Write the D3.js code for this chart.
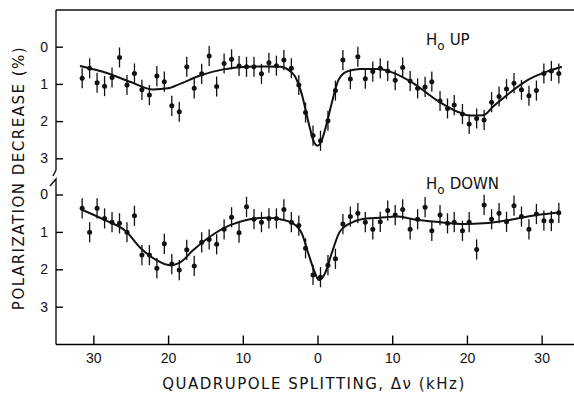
<!DOCTYPE html>
<html>
<head>
<meta charset="utf-8">
<script src="https://cdn.jsdelivr.net/npm/d3@7"></script>
<style>
  body { margin: 0; background: #fff; }
  svg { display: block; font-family: "DejaVu Sans", sans-serif; }
</style>
</head>
<body>
<svg id="chart" width="574" height="398"></svg>
<script>
// frequency of every measurement (kHz, negative = left half of the axis)
const splitting = [-31.5, -30.5, -29.5, -28.5, -27.5, -26.5, -25.5, -24.5, -23.5, -22.5,
  -21.5, -20.5, -19.5, -18.5, -17.5, -16.5, -15.5, -14.5, -13.5, -12.5,
  -11.5, -10.5, -9.5, -8.5, -7.5, -6.5, -5.5, -4.5, -3.5, -2.5,
  -1.6, -0.6, 0.4, 1.4, 2.4, 3.4, 4.4, 5.4, 6.4, 7.4,
  8.4, 9.4, 10.4, 11.4, 12.4, 13.4, 14.4, 15.3, 16.4, 17.4,
  18.3, 19.4, 20.3, 21.3, 22.3, 23.3, 24.3, 25.3, 26.3, 27.3,
  28.3, 29.3, 30.3, 31.3, 32.3];

const upValues = [0.85, 0.58, 0.97, 1.06, 0.83, 0.29, 1.03, 0.72, 1.16, 1.30,
  0.79, 0.94, 1.59, 1.75, 0.54, 1.12, 0.73, 0.25, 1.07, 0.45,
  0.34, 0.52, 0.54, 0.54, 0.73, 0.43, 0.51, 0.36, 0.58, 1.03,
  1.77, 2.39, 2.53, 1.99, 1.18, 0.36, 0.87, 0.27, 0.86, 0.67,
  0.58, 0.65, 0.90, 0.56, 0.92, 1.12, 1.08, 0.94, 1.46, 1.66,
  1.57, 1.81, 2.08, 1.93, 1.97, 1.49, 1.34, 1.14, 0.98, 1.16,
  1.32, 1.18, 0.72, 0.65, 0.72];

const downValues = [0.37, 1.01, 0.37, 0.64, 0.74, 0.77, 1.01, 0.57, 1.62, 1.62,
  1.97, 1.32, 1.86, 2.02, 1.48, 1.91, 1.28, 1.20, 1.33, 0.93,
  0.61, 1.02, 0.33, 0.66, 0.74, 0.64, 0.64, 0.40, 0.74, 0.83,
  1.44, 2.15, 2.21, 1.89, 1.72, 0.79, 0.59, 0.50, 0.74, 0.93,
  0.73, 0.43, 0.55, 0.40, 0.93, 0.66, 0.34, 0.97, 0.55, 0.77,
  0.74, 0.97, 0.74, 1.47, 0.28, 0.66, 0.50, 0.73, 0.30, 0.59,
  0.93, 0.52, 0.70, 0.71, 0.49];

const errorBar = 0.27;

// fitted curves
const upFitX = [-31.8, -28, -25, -22, -20, -18.4, -15.8, -12.6, -10.4, -7, -5, -3.7, -3, -2.6, -2, -1.6,
  -1, -0.6, 0, 0.5, 1, 1.5, 1.9, 2.8, 3.9, 5.7, 8.3, 9.7, 12.8, 15.9, 19, 20.4, 22.2, 23.5, 25.8, 28, 30.7, 32.7];
const upFitY = [0.52, 0.72, 0.95, 1.15, 1.12, 1.0, 0.78, 0.61, 0.55, 0.53, 0.54, 0.65, 0.8, 0.98, 1.35, 1.7,
  2.2, 2.5, 2.66, 2.55, 2.24, 1.85, 1.52, 0.9, 0.67, 0.6, 0.6, 0.67, 0.98, 1.43, 1.77, 1.85, 1.84, 1.61, 1.23, 0.91, 0.67, 0.54];

const downFitX = [-31.6, -28.5, -25.6, -23.8, -21.6, -19.8, -18.4, -16.7, -14.4, -11.7, -9.5, -6.8, -5, -3.3, -2.1,
  -1.3, -0.4, 0.2, 1, 1.9, 3, 4.8, 6.6, 8.3, 10.6, 12.8, 15.9, 19.9, 22.2, 25.7, 29.3, 32.3];
const downFitY = [0.40, 0.68, 0.99, 1.41, 1.75, 1.89, 1.82, 1.5, 1.13, 0.82, 0.68, 0.62, 0.66, 0.77, 1.04,
  1.53, 2.06, 2.29, 2.11, 1.57, 0.99, 0.73, 0.64, 0.62, 0.59, 0.66, 0.73, 0.79, 0.77, 0.68, 0.55, 0.48];

const xTicks = [-30, -20, -10, 0, 10, 20, 30];
const yTicks = [0, 1, 2, 3];

const svg = d3.select("#chart");
const plotLeft = 56, plotTop = 10, plotBottom = 344.5;

const x = d3.scaleLinear().domain([-35, 35]).range([plotLeft, 579]);
const yUp = d3.scaleLinear().domain([0, 3]).range([46.7, 158.3]);
const yDown = d3.scaleLinear().domain([0, 3]).range([194.5, 306.7]);

// frame: top edge, bottom axis, broken left axis
svg.append("line").attr("x1", plotLeft).attr("x2", 574).attr("y1", plotTop).attr("y2", plotTop)
  .attr("stroke", "#111").attr("stroke-width", 1.4);
svg.append("path")
  .attr("d", `M${plotLeft},${plotTop}V170L${plotLeft - 3},176`)
  .attr("fill", "none").attr("stroke", "#111").attr("stroke-width", 1.4);
svg.append("path")
  .attr("d", `M${plotLeft - 6},186L${plotLeft},179V${plotBottom}`)
  .attr("fill", "none").attr("stroke", "#111").attr("stroke-width", 1.4);

const xAxis = svg.append("g")
  .attr("transform", `translate(0,${plotBottom})`)
  .call(d3.axisBottom(x).tickValues(xTicks).tickSizeInner(-9).tickSizeOuter(0)
    .tickPadding(9).tickFormat(d => Math.abs(d)));
xAxis.select(".domain").attr("d", `M${plotLeft},0H574`).attr("stroke-width", 1.4);
xAxis.selectAll(".tick line").attr("stroke-width", 1.4);
xAxis.selectAll("text").attr("font-size", 14).attr("fill", "#111");

[yUp, yDown].forEach(y => {
  const g = svg.append("g")
    .attr("transform", `translate(${plotLeft},0)`)
    .call(d3.axisLeft(y).tickValues(yTicks).tickSize(-7).tickPadding(8).tickFormat(d3.format("d")));
  g.select(".domain").remove();
  g.selectAll(".tick line").attr("stroke-width", 1.4);
  g.selectAll("text").attr("font-size", 14).attr("fill", "#111");
});

function panel(values, fitX, fitY, y) {
  const g = svg.append("g");
  const pts = splitting.map((s, i) => ({ s, v: values[i] }));
  g.selectAll(".err").data(pts).enter().append("line")
    .attr("x1", d => x(d.s)).attr("x2", d => x(d.s))
    .attr("y1", d => y(d.v - errorBar)).attr("y2", d => y(d.v + errorBar))
    .attr("stroke", "#111").attr("stroke-width", 1.3);
  g.selectAll(".pt").data(pts).enter().append("circle")
    .attr("cx", d => x(d.s)).attr("cy", d => y(d.v)).attr("r", 2.5)
    .attr("fill", "#111");
  const line = d3.line().x(d => x(d[0])).y(d => y(d[1])).curve(d3.curveMonotoneX);
  g.append("path").datum(fitX.map((s, i) => [s, fitY[i]]))
    .attr("d", line).attr("fill", "none").attr("stroke", "#111").attr("stroke-width", 2);
}
panel(upValues, upFitX, upFitY, yUp);
panel(downValues, downFitX, downFitY, yDown);

// panel captions
function caption(xPos, yPos, word) {
  const t = svg.append("text").attr("x", xPos).attr("y", yPos)
    .attr("font-size", 15).attr("fill", "#111");
  t.append("tspan").text("H");
  t.append("tspan").attr("dy", 5).attr("font-size", 12).text("o");
  t.append("tspan").attr("dy", -5).attr("dx", 5).text(word);
}
caption(426, 45, "UP");
caption(426, 189, "DOWN");

svg.append("text")
  .attr("transform", "translate(24,178) rotate(-90)")
  .attr("text-anchor", "middle").attr("font-size", 15).attr("letter-spacing", 1.5)
  .attr("fill", "#111")
  .text("POLARIZATION  DECREASE  (%)");

svg.append("text")
  .attr("x", 314).attr("y", 389)
  .attr("text-anchor", "middle").attr("font-size", 15).attr("letter-spacing", 1.5)
  .attr("fill", "#111")
  .text("QUADRUPOLE  SPLITTING, Δν (kHz)");
</script>
</body>
</html>
